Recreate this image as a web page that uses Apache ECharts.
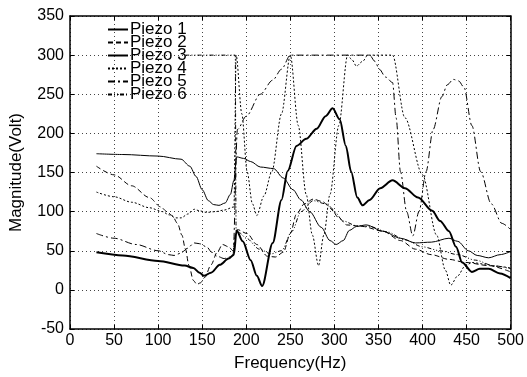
<!DOCTYPE html>
<html>
<head>
<meta charset="utf-8">
<script src="https://cdn.jsdelivr.net/npm/echarts@6/dist/echarts.min.js"></script>
<style>
  html, body { margin: 0; padding: 0; background: #fff; }
  #main { width: 527px; height: 377px; }
</style>
</head>
<body>
<div id="main"></div>
<script>
// 刻度
const xTicks = [0, 50, 100, 150, 200, 250, 300, 350, 400, 450, 500];
const yTicks = [-50, 0, 50, 100, 150, 200, 250, 300, 350];

// 每条曲线: [频率 Hz, 幅值 Volt]
const piezo1 = [[30,48],[60,44],[100,37],[130,31],[140,28],[147,22],[152,18],[160,22],[170,32],[180,40],[186,45],[189,76],[196,62],[205,38],[212,18],[218,5],[230,60],[240,115],[247,152],[257,184],[268,193],[280,206],[290,222],[298,232],[306,218],[313,184],[319,151],[326,118],[332,108],[340,115],[352,130],[366,140],[380,130],[395,118],[411,101],[420,88],[430,75],[438,55],[445,35],[456,23],[465,27],[475,27],[488,21],[500,15]];
const piezo2 = [[30,158],[50,147],[70,133],[90,118],[103,106],[110,100],[116,95],[122,85],[127,70],[131,52],[135,31],[140,12],[144,7],[148,9],[153,16],[160,32],[167,48],[173,58],[180,55],[185,50],[188,72],[190,77],[201,72],[212,58],[224,43],[233,42],[242,48],[250,72],[257,97],[266,110],[276,116],[286,113],[295,106],[305,92],[314,83],[332,81],[355,75],[375,63],[392,52],[410,45],[430,39],[449,35],[475,31],[500,23]];
const piezo3 = [[30,174],[60,173],[100,171],[126,167],[136,158],[143,145],[150,128],[157,114],[163,109],[169,108],[176,111],[182,122],[186,140],[189,170],[197,168],[205,164],[216,157],[231,155],[242,143],[253,128],[262,115],[272,100],[285,80],[295,63],[302,58],[310,63],[317,76],[325,81],[336,83],[355,75],[375,66],[392,60],[410,61],[430,66],[440,62],[452,50],[462,44],[475,41],[488,45],[500,49]];
const piezo4 = [[30,125],[50,119],[70,112],[90,105],[105,100],[112,96],[120,92],[126,92],[134,97],[141,103],[147,101],[155,99],[165,100],[175,102],[186,106],[188.5,300],[195,225],[201,151],[207,110],[212,95],[220,120],[229,151],[240,225],[250,300],[259,210],[268,122],[275,70],[282,31],[288,70],[295,122],[305,210],[315,300],[320,294],[325,286],[332,292],[338,300],[366,300],[380,220],[400,147],[416,70],[426,25],[432,6],[440,18],[448,30],[456,35],[470,33],[485,30],[500,28]];
const piezo5 = [[30,72],[50,66],[75,58],[100,50],[112,45],[118,44],[126,47],[133,53],[141,60],[147,59],[155,55],[161,48],[167,43],[175,40],[181,42],[185,45],[190,205],[200,222],[216,250],[230,268],[240,282],[250,300],[315,300],[340,300],[346,292],[351,282],[358,272],[366,265],[370,220],[375,151],[382,100],[389,69],[396,100],[404,151],[412,205],[422,247],[428,262],[435,269],[441,267],[447,259],[456,210],[466,151],[478,110],[490,85],[500,77]];
const piezo6 = [[131,300],[150,300],[170,300],[187.5,300],[188.5,75],[192,73],[200,66],[215,52],[228,46],[240,50],[252,75],[262,100],[276,114],[290,110],[300,100],[310,88],[325,82],[340,81],[360,74],[380,64],[400,55],[420,50],[440,45],[460,38],[480,31],[500,27]];

const names = ['Piezo 1', 'Piezo 2', 'Piezo 3', 'Piezo 4', 'Piezo 5', 'Piezo 6'];
const datas = [piezo1, piezo2, piezo3, piezo4, piezo5, piezo6];
const styles = [
  { width: 2, type: 'solid' },
  { width: 1, type: [5, 3] },
  { width: 1, type: 'solid' },
  { width: 1, type: [2, 2] },
  { width: 1, type: [7, 3, 2, 3] },
  { width: 1, type: [4, 2, 1, 2, 1, 2] }
];

const FONT = 'Liberation Sans, Arial, sans-serif';

let myChart = echarts.init(document.getElementById('main'));
myChart.setOption({
  animation: false,
  backgroundColor: '#fff',
  grid: { left: 68, right: 15, top: 16, bottom: 39 },
  legend: {
    orient: 'vertical',
    left: 102,
    top: 16,
    itemWidth: 20,
    itemHeight: 10,
    itemGap: -4,
    data: names,
    itemStyle: { color: 'transparent', borderWidth: 0, opacity: 0 },
    textStyle: { fontSize: 17, color: '#000', fontFamily: FONT, padding: [0, 0, 0, -3] }
  },
  xAxis: [{
    type: 'value',
    min: xTicks[0], max: xTicks[xTicks.length - 1], interval: 50,
    name: 'Frequency(Hz)', nameLocation: 'middle', nameGap: 26,
    nameTextStyle: { fontSize: 17, color: '#000', fontFamily: FONT },
    axisLine: { onZero: false, lineStyle: { color: '#000', width: 1.5 } },
    axisTick: { inside: true, length: 4, lineStyle: { color: '#000' } },
    axisLabel: { fontSize: 16, color: '#000', fontFamily: FONT, margin: 4 },
    splitLine: { show: true, lineStyle: { color: '#444', type: [1, 3], width: 1 } }
  }, {
    type: 'value', position: 'top',
    min: xTicks[0], max: xTicks[xTicks.length - 1], interval: 50,
    axisLine: { onZero: false, lineStyle: { color: '#000', width: 1.5 } },
    axisTick: { inside: true, length: 4, lineStyle: { color: '#000' } },
    axisLabel: { show: false }, splitLine: { show: false }
  }],
  yAxis: [{
    type: 'value',
    min: yTicks[0], max: yTicks[yTicks.length - 1], interval: 50,
    name: 'Magnitude(Volt)', nameLocation: 'middle', nameGap: 45,
    nameTextStyle: { fontSize: 17, color: '#000', fontFamily: FONT },
    axisLine: { show: true, onZero: false, lineStyle: { color: '#000', width: 1.5 } },
    axisTick: { show: true, inside: true, length: 4, lineStyle: { color: '#000' } },
    axisLabel: { fontSize: 16, color: '#000', fontFamily: FONT, margin: 6 },
    splitLine: { show: true, lineStyle: { color: '#444', type: [1, 3], width: 1 } }
  }, {
    type: 'value', position: 'right',
    min: yTicks[0], max: yTicks[yTicks.length - 1], interval: 50,
    axisLine: { show: true, onZero: false, lineStyle: { color: '#000', width: 1.5 } },
    axisTick: { show: true, inside: true, length: 4, lineStyle: { color: '#000' } },
    axisLabel: { show: false }, splitLine: { show: false }
  }],
  series: names.map((n, i) => ({
    name: n,
    type: 'line',
    xAxisIndex: 0,
    yAxisIndex: 0,
    data: datas[i],
    symbol: 'none',
    smooth: 0.3,
    smoothMonotone: 'x',
    color: '#000',
    lineStyle: { color: '#000', width: styles[i].width, type: styles[i].type }
  }))
});
</script>
</body>
</html>
